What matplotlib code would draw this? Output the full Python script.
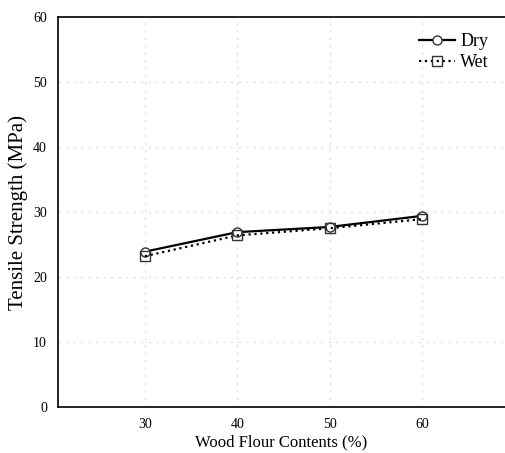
import matplotlib.pyplot as plt

# data
wood_flour = [30, 40, 50, 60]
dry = [23.9, 26.9, 27.7, 29.4]
wet = [23.2, 26.4, 27.5, 28.9]

plt.rcParams['font.family'] = ['Liberation Serif', 'DejaVu Serif']

fig = plt.figure(figsize=(5.05, 4.53), dpi=100)
ax = fig.add_axes([0.115, 0.1015, 0.885, 0.861])

ax.plot(wood_flour, dry, '-', color='black', lw=1.6, marker='o', ms=6.5,
        mfc='white', mec='#333333', mew=1, label='Dry')
ax.plot(wood_flour, wet, ':', color='black', lw=1.6, marker='s', ms=6.5,
        mfc='none', mec='#333333', mew=1, label='Wet')

ax.set_xlim(20.6, 69)
ax.set_ylim(0, 60)
ax.set_xticks([30, 40, 50, 60])
ax.set_yticks(range(0, 61, 10))
ax.tick_params(length=0, labelsize=10, pad=8)
ax.grid(True, color='#e0e0e0', ls=(0, (2, 4)), lw=0.9)
ax.spines['right'].set_visible(False)
for s in ['left', 'bottom', 'top']:
    ax.spines[s].set_linewidth(1.2)

ax.set_xlabel('Wood Flour Contents (%)', fontsize=12, labelpad=2)
ax.set_ylabel('Tensile Strength (MPa)', fontsize=15, labelpad=4)

ax.legend(loc='upper right', frameon=False, fontsize=13, handlelength=2,
          borderaxespad=0.5, handletextpad=0.3, labelspacing=0.2)

fig.savefig('out.png', dpi=100)
